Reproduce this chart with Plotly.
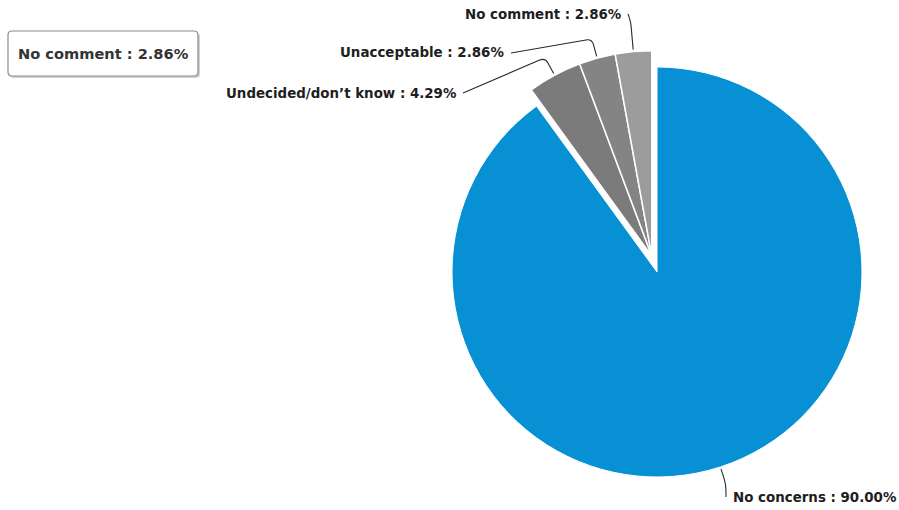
import numpy as np
import plotly.graph_objects as go

# ---------------- data ----------------
labels = ["No concerns", "Undecided/don’t know", "Unacceptable", "No comment"]
counts = [63, 3, 2, 2]
colors = ["#0790d3", "#7b7b7b", "#848484", "#9c9c9c"]
sliced = [False, True, True, True]
tooltip_index = 3

# ---------------- layout constants (pixels) ----------------
W, H = 899, 510
CX, CY = 657, 272          # pie centre
R = 205                    # pie radius
PULL = 17                  # offset of the sliced group
FONT = "DejaVu Sans"

def px(x):
    return x / W

def py(y):
    return 1 - y / H

vals = np.array(counts, dtype=float)
frac = vals / vals.sum()
pct = frac * 100
start = np.concatenate([[0.0], np.cumsum(frac)[:-1]]) * 360
end = start + frac * 360
mid = (start + end) / 2
sl = np.array(sliced)

gm = np.radians((start[sl].min() + end[sl].max()) / 2)
dx, dy = PULL * np.sin(gm), -PULL * np.cos(gm)

def domain(cx, cy):
    return dict(x=[(cx - R) / W, (cx + R) / W], y=[py(cy + R), py(cy - R)])

transparent = "rgba(0,0,0,0)"
colA = [transparent if s else c for c, s in zip(colors, sliced)]
colB = [c if s else transparent for c, s in zip(colors, sliced)]
lwA = [0 if s else 1 for s in sliced]
lwB = [1.5 if s else 0 for s in sliced]

fig = go.Figure()
fig.add_trace(go.Pie(
    labels=labels, values=counts, sort=False, direction="clockwise", rotation=0,
    marker=dict(colors=colA, line=dict(color="white", width=lwA)),
    textinfo="none", hoverinfo="label+percent", showlegend=False,
    domain=domain(CX, CY),
))
fig.add_trace(go.Pie(
    labels=labels, values=counts, sort=False, direction="clockwise", rotation=0,
    marker=dict(colors=colB, line=dict(color="white", width=lwB)),
    textinfo="none", hoverinfo="label+percent", showlegend=False,
    domain=domain(CX + dx, CY + dy),
))

# ---------------- labels with connectors ----------------
label_pos = [(731, 497, "left"), (458, 93, "right"), (506, 53, "right"), (623, 14, "right")]
knee_len = [18, 20, 20, 30]

shapes = []
annotations = []
for i in range(len(labels)):
    a = np.radians(mid[i])
    u = np.array([np.sin(a), -np.cos(a)])
    c = np.array([CX + (dx if sliced[i] else 0), CY + (dy if sliced[i] else 0)])
    S = c + (R + 2) * u
    K = c + (R + knee_len[i]) * u
    lx, ly, side = label_pos[i]
    L = np.array([lx + (5 if side == "right" else -5), ly])
    r = min(6, 0.5 * np.linalg.norm(L - K))
    A = K + (L - K) / np.linalg.norm(L - K) * r
    B = K + (S - K) / np.linalg.norm(S - K) * r
    path = (f"M {px(L[0])},{py(L[1])} L {px(A[0])},{py(A[1])} "
            f"Q {px(K[0])},{py(K[1])} {px(B[0])},{py(B[1])} L {px(S[0])},{py(S[1])}")
    shapes.append(dict(type="path", xref="paper", yref="paper", path=path,
                       line=dict(color="#2a2a2a", width=1.1)))
    annotations.append(dict(
        x=px(lx), y=py(ly), xref="paper", yref="paper", showarrow=False,
        xanchor=side, yanchor="middle",
        text=f"{labels[i]} : {pct[i]:.2f}%",
        font=dict(family=FONT, size=13.4, color="#1e1e1e", weight="bold"),
    ))

# ---------------- tooltip box ----------------
def rounded_rect(x0, y0, x1, y1, rr):
    return (f"M {px(x0 + rr)},{py(y0)} L {px(x1 - rr)},{py(y0)} "
            f"Q {px(x1)},{py(y0)} {px(x1)},{py(y0 + rr)} L {px(x1)},{py(y1 - rr)} "
            f"Q {px(x1)},{py(y1)} {px(x1 - rr)},{py(y1)} L {px(x0 + rr)},{py(y1)} "
            f"Q {px(x0)},{py(y1)} {px(x0)},{py(y1 - rr)} L {px(x0)},{py(y0 + rr)} "
            f"Q {px(x0)},{py(y0)} {px(x0 + rr)},{py(y0)} Z")

tb = (8, 31, 198, 76)
shapes.append(dict(type="path", xref="paper", yref="paper",
                   path=rounded_rect(tb[0] + 2, tb[1] + 2, tb[2] + 2, tb[3] + 2, 4),
                   fillcolor="rgba(0,0,0,0.18)", line=dict(width=0)))
shapes.append(dict(type="path", xref="paper", yref="paper",
                   path=rounded_rect(*tb, 4),
                   fillcolor="white", line=dict(color="#8c8c8c", width=1.2)))
annotations.append(dict(
    x=px((tb[0] + tb[2]) / 2), y=py((tb[1] + tb[3]) / 2), xref="paper", yref="paper",
    showarrow=False, xanchor="center", yanchor="middle",
    text=f"{labels[tooltip_index]} : {pct[tooltip_index]:.2f}%",
    font=dict(family=FONT, size=14.6, color="#333333", weight="bold"),
))

fig.update_layout(
    width=W, height=H, margin=dict(l=0, r=0, t=0, b=0),
    paper_bgcolor="white", plot_bgcolor="white",
    shapes=shapes, annotations=annotations,
)

fig.write_html("out.html")
